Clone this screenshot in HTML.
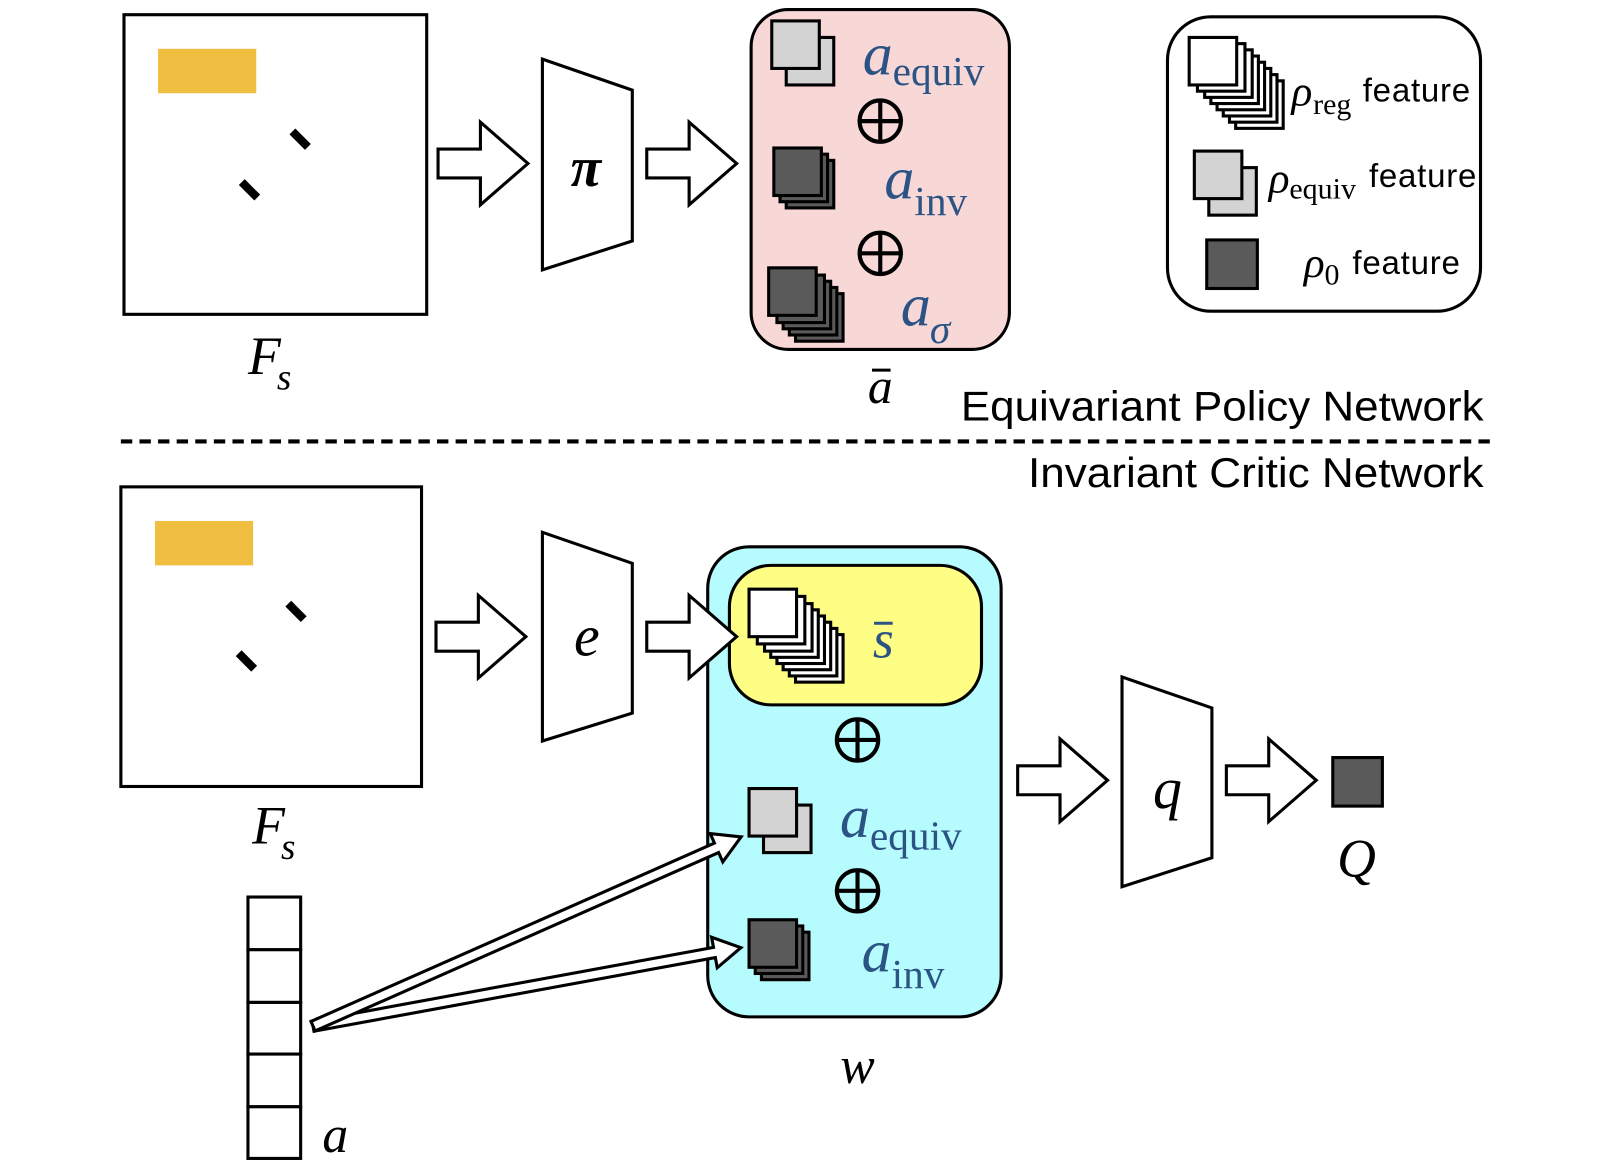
<!DOCTYPE html>
<html><head><meta charset="utf-8"><style>
html,body{margin:0;padding:0;background:#fff;}
svg{display:block;}
.m{font-family:"Liberation Serif",serif;font-style:italic;}
.b{fill:#2b5384;}
.sub{font-family:"Liberation Serif",serif;font-style:normal;}
.sf{font-family:"Liberation Sans",sans-serif;}
</style></head><body>
<svg width="1620" height="1169" viewBox="0 0 1568 1131" xmlns="http://www.w3.org/2000/svg">
<defs>
<polygon id="ba" points="0,-14 41,-14 41,-40 87,0 41,40 41,14 0,14" fill="#fff" stroke="#000" stroke-width="3"/>
<g id="oplus"><circle r="20" fill="none" stroke="#000" stroke-width="4"/><line x1="-20" y1="0" x2="20" y2="0" stroke="#000" stroke-width="4"/><line x1="0" y1="-20" x2="0" y2="20" stroke="#000" stroke-width="4"/></g>
<rect id="ds" width="46" height="46" fill="#5a5a5a" stroke="#000" stroke-width="3"/>
<rect id="ls" width="46" height="46" fill="#d3d3d3" stroke="#000" stroke-width="3"/>
<rect id="ws" width="46" height="46" fill="#fff" stroke="#000" stroke-width="3"/>
</defs>

<!-- TOP -->
<rect x="120" y="14" width="293" height="290" fill="#fff" stroke="#000" stroke-width="3"/>
<rect x="153" y="47" width="95" height="43" fill="#f0bf42"/>
<line x1="283" y1="127" x2="298" y2="142" stroke="#000" stroke-width="8"/>
<line x1="234" y1="176" x2="249" y2="191" stroke="#000" stroke-width="8"/>
<text x="240" y="362" class="m" font-size="52">F</text><text x="268" y="377" class="m" font-size="36">s</text>
<use href="#ba" x="424" y="158"/>
<polygon points="525,57 612,87 612,233 525,261" fill="#fff" stroke="#000" stroke-width="3"/>
<text x="567" y="180" class="m" font-size="54" text-anchor="middle" font-weight="bold">π</text>
<use href="#ba" x="626" y="158"/>

<rect x="727" y="9" width="250" height="329" rx="36" fill="#f8d7d7" stroke="#000" stroke-width="3"/>
<use href="#ls" x="761" y="36"/><use href="#ls" x="747" y="20"/>
<text x="835" y="72" class="m b" font-size="58">a</text><text x="864" y="82" class="sub b" font-size="40">equiv</text>
<use href="#oplus" x="852" y="117"/>
<use href="#ds" x="761" y="155"/><use href="#ds" x="755" y="149"/><use href="#ds" x="749" y="143"/>
<text x="856" y="192" class="m b" font-size="58">a</text><text x="885" y="208" class="sub b" font-size="40">inv</text>
<use href="#oplus" x="852" y="245"/>
<use href="#ds" x="770" y="284"/><use href="#ds" x="764" y="278"/><use href="#ds" x="758" y="272"/><use href="#ds" x="752" y="266"/><use href="#ds" x="744" y="259"/>
<text x="872" y="315" class="m b" font-size="58">a</text><text x="900" y="332" class="m b" font-size="40">σ</text>
<text x="852" y="390" class="m" font-size="48" text-anchor="middle">a</text>
<line x1="844" y1="358" x2="862" y2="358" stroke="#000" stroke-width="3"/>

<!-- legend -->
<rect x="1130" y="16" width="303" height="285" rx="42" fill="#fff" stroke="#000" stroke-width="3"/>
<use href="#ws" x="1196" y="78"/><use href="#ws" x="1190" y="72"/><use href="#ws" x="1184" y="66"/><use href="#ws" x="1178" y="60"/><use href="#ws" x="1172" y="54"/><use href="#ws" x="1166" y="48"/><use href="#ws" x="1159" y="42"/><use href="#ws" x="1151" y="36"/>
<text x="1250" y="102" class="m" font-size="42">ρ</text><text x="1271" y="110" class="sub" font-size="29">reg</text>
<text x="1319" y="98" class="sf" font-size="32" textLength="104">feature</text>
<use href="#ls" x="1170" y="162"/><use href="#ls" x="1156" y="146"/>
<text x="1228" y="186" class="m" font-size="42">ρ</text><text x="1248" y="192" class="sub" font-size="29">equiv</text>
<text x="1325" y="181" class="sf" font-size="32" textLength="104">feature</text>
<rect x="1168" y="232" width="49" height="47" fill="#5a5a5a" stroke="#000" stroke-width="3"/>
<text x="1262" y="268" class="m" font-size="42">ρ</text><text x="1282" y="275" class="sub" font-size="29">0</text>
<text x="1309" y="265" class="sf" font-size="32" textLength="104">feature</text>

<text x="930" y="407" class="sf" font-size="40" textLength="506" lengthAdjust="spacingAndGlyphs">Equivariant Policy Network</text>
<line x1="117" y1="427" x2="1445" y2="427" stroke="#000" stroke-width="4" stroke-dasharray="11,7"/>
<text x="995" y="471" class="sf" font-size="40" textLength="441" lengthAdjust="spacingAndGlyphs">Invariant Critic Network</text>

<!-- BOTTOM -->
<rect x="117" y="471" width="291" height="290" fill="#fff" stroke="#000" stroke-width="3"/>
<rect x="150" y="504" width="95" height="43" fill="#f0bf42"/>
<line x1="279" y1="584" x2="294" y2="599" stroke="#000" stroke-width="8"/>
<line x1="231" y1="632" x2="246" y2="647" stroke="#000" stroke-width="8"/>
<text x="244" y="816" class="m" font-size="52">F</text><text x="272" y="831" class="m" font-size="36">s</text>
<use href="#ba" x="422" y="616"/>
<polygon points="525,515 612,545 612,690 525,717" fill="#fff" stroke="#000" stroke-width="3"/>
<text x="568" y="634" class="m" font-size="56" text-anchor="middle">e</text>

<rect x="685" y="529" width="284" height="455" rx="40" fill="#b6fbfd" stroke="#000" stroke-width="3"/>
<rect x="706" y="547" width="244" height="135" rx="40" fill="#fefd84" stroke="#000" stroke-width="3"/>
<use href="#ba" x="626" y="616"/>
<use href="#ws" x="770" y="614"/><use href="#ws" x="764" y="608"/><use href="#ws" x="758" y="602"/><use href="#ws" x="752" y="596"/><use href="#ws" x="746" y="590"/><use href="#ws" x="740" y="584"/><use href="#ws" x="733" y="577"/><use href="#ws" x="725" y="570"/>
<text x="855" y="636" class="m b" font-size="52" text-anchor="middle">s</text>
<line x1="846" y1="603" x2="864" y2="603" stroke="#2b5384" stroke-width="3"/>
<use href="#oplus" x="830" y="716"/>
<use href="#ls" x="739" y="779"/><use href="#ls" x="725" y="763"/>
<text x="813" y="810" class="m b" font-size="58">a</text><text x="842" y="822" class="sub b" font-size="40">equiv</text>
<use href="#oplus" x="830" y="862"/>
<use href="#ds" x="737" y="902"/><use href="#ds" x="731" y="896"/><use href="#ds" x="725" y="890"/>
<text x="834" y="940" class="m b" font-size="58">a</text><text x="863" y="956" class="sub b" font-size="40">inv</text>
<text x="830" y="1048" class="m" font-size="50" text-anchor="middle">w</text>

<use href="#ba" x="985" y="755"/>
<polygon points="1086,655 1173,685 1173,830 1086,858" fill="#fff" stroke="#000" stroke-width="3"/>
<text x="1130" y="782" class="m" font-size="56" text-anchor="middle">q</text>
<use href="#ba" x="1187" y="755"/>
<rect x="1290" y="733" width="48" height="47" fill="#5a5a5a" stroke="#000" stroke-width="3"/>
<text x="1313" y="848" class="m" font-size="52" text-anchor="middle">Q</text>

<!-- vector a -->
<g fill="#fff" stroke="#000" stroke-width="3">
<rect x="240" y="868" width="51" height="51"/><rect x="240" y="919" width="51" height="51"/><rect x="240" y="970" width="51" height="50"/><rect x="240" y="1020" width="51" height="51"/><rect x="240" y="1071" width="51" height="50"/>
</g>
<text x="312" y="1115" class="m" font-size="50">a</text>

<!-- thin arrows -->
<g transform="translate(303,993) rotate(-10.4)"><polygon points="0,-5 395,-5 395,-15 421,0 395,15 395,5 0,5" fill="#fff" stroke="#000" stroke-width="3"/></g>
<g transform="translate(303,993) rotate(-23.85)"><polygon points="0,-5 427,-5 427,-15 453,0 427,15 427,5 0,5" fill="#fff" stroke="#000" stroke-width="3"/></g>
</svg>
</body></html>
